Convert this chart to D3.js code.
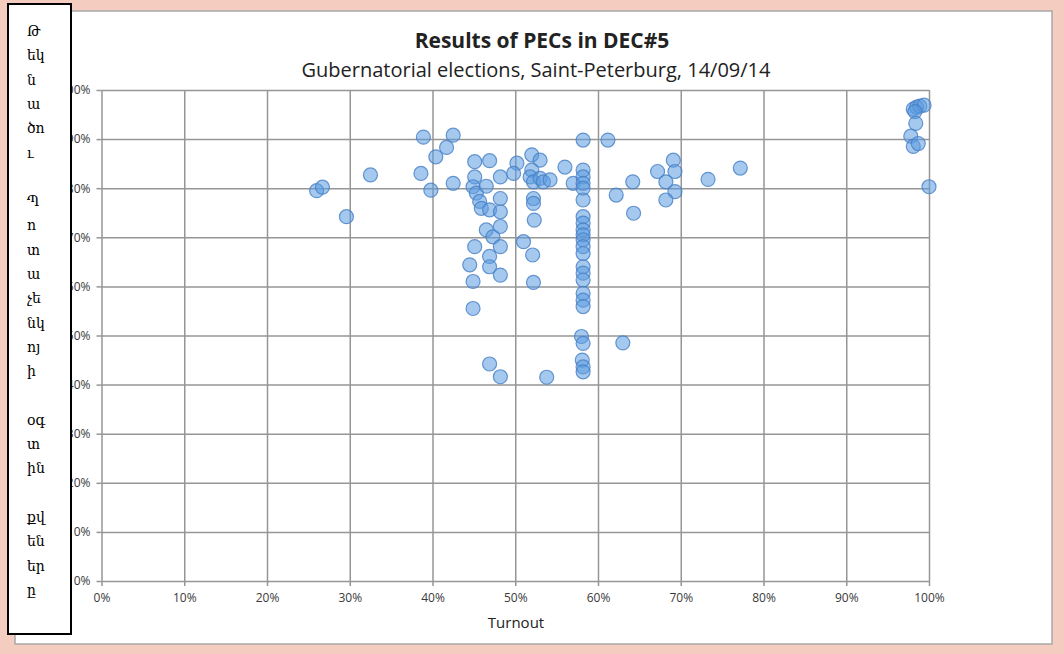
<!DOCTYPE html>
<html>
<head>
<meta charset="utf-8">
<script src="https://cdn.jsdelivr.net/npm/d3@7"></script>
<style>
  body { margin: 0; background: #f5cdc0; }
  .tick text { font-family: "Open Sans", sans-serif; }
</style>
</head>
<body>
<div id="chart"></div>
<script>
// chart data (percent)
var turnout = [26.0, 26.7, 29.6, 32.5, 38.9, 38.6, 39.8, 40.4, 41.7, 42.5, 42.5,
    45.1, 46.9, 45.1, 44.9, 45.3, 45.7, 45.9, 46.9, 48.2, 48.2, 48.2, 46.5,
    50.2, 49.8, 52.0, 53.0, 52.0, 51.8, 52.2, 53.0, 53.4, 54.2, 52.2, 52.2, 52.3,
    56.0, 58.2, 57.0, 58.2, 58.2, 58.2, 58.2, 58.2, 58.2, 58.2, 58.2, 58.2, 58.2,
    58.2, 58.2, 58.2, 58.2, 58.2, 58.2, 58.2, 58.2, 58.0, 58.2, 58.1, 58.2, 58.2,
    61.2, 64.2, 62.2, 64.3, 67.2, 69.1, 69.3, 68.2, 69.3, 68.2, 73.3, 77.2, 63.0,
    46.5, 47.3, 48.2, 48.2, 45.1, 46.9, 51.0, 52.1, 44.5, 46.9, 48.2, 44.9, 52.2,
    44.9, 46.9, 48.2, 53.8,
    98.1, 98.5, 98.9, 99.4, 98.3, 98.4, 97.8, 98.1, 98.7, 100.0];
var candidateShare = [79.5, 80.2, 74.2, 82.7, 90.4, 83.0, 79.6, 86.4, 88.3, 90.8, 81.0,
    85.4, 85.6, 82.3, 80.3, 79.0, 77.3, 75.9, 75.6, 82.3, 77.9, 75.2, 80.4,
    85.1, 83.0, 86.8, 85.7, 83.7, 82.3, 81.3, 82.0, 81.3, 81.7, 77.9, 76.9, 73.5,
    84.3, 89.8, 81.0, 83.7, 82.3, 81.0, 80.0, 77.6, 74.2, 72.9, 71.5, 70.5, 69.5,
    68.1, 66.7, 64.0, 62.7, 61.3, 58.6, 57.2, 55.9, 49.8, 48.4, 45.0, 43.6, 42.6,
    89.8, 81.3, 78.6, 74.9, 83.4, 85.7, 83.4, 81.3, 79.3, 77.6, 81.8, 84.1, 48.5,
    71.5, 70.1, 72.2, 68.1, 68.1, 66.1, 69.1, 66.4, 64.4, 64.0, 62.3, 61.0, 60.8,
    55.5, 44.2, 41.6, 41.5,
    96.1, 96.5, 96.7, 96.9, 95.6, 93.2, 90.6, 88.5, 89.1, 80.3];

var tickValues = [0, 10, 20, 30, 40, 50, 60, 70, 80, 90, 100];
var titleText = "Results of PECs in DEC#5";
var subtitleText = "Gubernatorial elections, Saint-Peterburg, 14/09/14";
var xLabel = "Turnout";
// y axis label, broken into short lines
var yLabelLines = ["Թ", "եկ", "ն", "ա", "ծո", "ւ", "", "Պ", "ո", "տ", "ա", "չե", "նկ", "ոյ", "ի",
    "", "օգ", "տ", "ին", "", "քվ", "են", "եր", "ը"];

var svgWidth = 1064;
var svgHeight = 654;

var plot = { left: 101.5, right: 929, top: 90, bottom: 581 };

var svg = d3.select("#chart")
    .append("svg")
    .attr("width", svgWidth)
    .attr("height", svgHeight);

// pink background + white chart frame
svg.append("rect")
    .attr("width", svgWidth)
    .attr("height", svgHeight)
    .attr("fill", "#f5cdc0");

svg.append("rect")
    .attr("x", 15)
    .attr("y", 11)
    .attr("width", 1037)
    .attr("height", 633)
    .attr("fill", "#ffffff")
    .attr("stroke", "#a8a8a8")
    .attr("stroke-width", 1.5);

// titles
svg.append("text")
    .attr("x", 542)
    .attr("y", 48)
    .attr("text-anchor", "middle")
    .attr("font-family", "Open Sans, sans-serif")
    .attr("font-weight", "bold")
    .attr("font-size", 21)
    .attr("fill", "#222")
    .text(titleText);

svg.append("text")
    .attr("x", 536)
    .attr("y", 77)
    .attr("text-anchor", "middle")
    .attr("font-family", "Open Sans, sans-serif")
    .attr("font-size", 20)
    .attr("fill", "#222")
    .text(subtitleText);

// scales
var xScale = d3.scaleLinear()
    .domain([0, 100])
    .range([plot.left, plot.right]);

var yScale = d3.scaleLinear()
    .domain([0, 100])
    .range([plot.bottom, plot.top]);

// gridlines
svg.append("g")
    .attr("class", "grid")
    .attr("transform", `translate(0, ${plot.bottom})`)
    .call(d3.axisBottom(xScale).tickValues(tickValues.slice(1))
        .tickSize(-(plot.bottom - plot.top)).tickFormat(""))
    .call(g => g.select(".domain").remove());

svg.append("g")
    .attr("class", "grid")
    .attr("transform", `translate(${plot.left}, 0)`)
    .call(d3.axisLeft(yScale).tickValues(tickValues.slice(1))
        .tickSize(-(plot.right - plot.left)).tickFormat(""))
    .call(g => g.select(".domain").remove());

svg.selectAll(".grid line")
    .attr("stroke", "#969696")
    .attr("stroke-width", 1.5);

// axes
var xAxis = svg.append("g")
    .attr("transform", `translate(0, ${plot.bottom})`)
    .call(d3.axisBottom(xScale).tickValues(tickValues)
        .tickSize(5).tickSizeOuter(0).tickPadding(7)
        .tickFormat(d => d + "%"));

var yAxis = svg.append("g")
    .attr("transform", `translate(${plot.left}, 0)`)
    .call(d3.axisLeft(yScale).tickValues(tickValues)
        .tickSize(5).tickSizeOuter(0).tickPadding(6)
        .tickFormat(d => d + "%"));

[xAxis, yAxis].forEach(g => {
    g.selectAll("path, line").attr("stroke", "#969696").attr("stroke-width", 1.5);
    g.selectAll("text").attr("font-size", 12).attr("fill", "#3a3a3a");
});

svg.append("text")
    .attr("x", 516)
    .attr("y", 628)
    .attr("text-anchor", "middle")
    .attr("font-family", "Open Sans, sans-serif")
    .attr("font-size", 15)
    .attr("fill", "#222")
    .text(xLabel);

// points
var points = turnout.map((t, i) => ({ turnout: t, share: candidateShare[i] }));

svg.append("g")
    .selectAll("circle")
    .data(points)
    .enter()
    .append("circle")
    .attr("cx", d => xScale(d.turnout))
    .attr("cy", d => yScale(d.share))
    .attr("r", 7)
    .attr("fill", "#5b9be0")
    .attr("fill-opacity", 0.55)
    .attr("stroke", "#4680c4")
    .attr("stroke-opacity", 0.8)
    .attr("stroke-width", 1.2);

// y label box that sits over the y tick labels
svg.append("rect")
    .attr("x", 8)
    .attr("y", 4)
    .attr("width", 63)
    .attr("height", 630)
    .attr("fill", "#ffffff")
    .attr("stroke", "#000")
    .attr("stroke-width", 2);

svg.append("g")
    .selectAll("text")
    .data(yLabelLines)
    .enter()
    .append("text")
    .attr("x", 27)
    .attr("y", (d, i) => 36 + i * 24.3)
    .attr("font-family", "DejaVu Serif, serif")
    .attr("font-size", 14)
    .attr("fill", "#000")
    .text(d => d);
</script>
</body>
</html>
